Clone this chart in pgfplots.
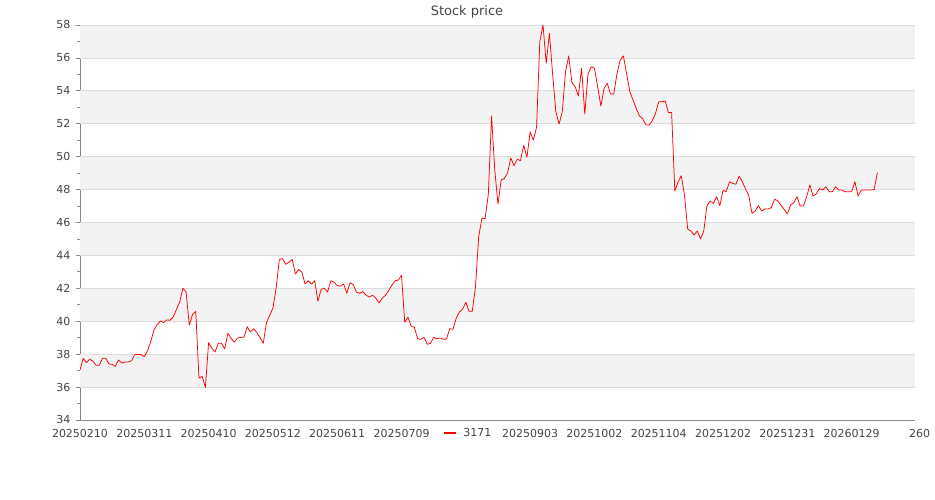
\documentclass[border=0pt]{standalone}
\usepackage{fontspec}
\setmainfont{DejaVu Sans}
\usepackage{pgfplots}
\pgfplotsset{compat=1.18}
\usepackage{pgfplotstable}
\definecolor{txt}{HTML}{444444}
\definecolor{axl}{HTML}{888888}
\definecolor{gridc}{HTML}{DDDDDD}
\definecolor{band}{HTML}{F3F3F3}

% closing price per trading day, index 0 = 20250210
\pgfplotstableread{
i v
0 37.04
1 37.75
2 37.48
3 37.69
4 37.58
5 37.32
6 37.32
7 37.75
8 37.75
9 37.40
10 37.38
11 37.26
12 37.65
13 37.46
14 37.52
15 37.52
16 37.60
17 37.97
18 37.98
19 37.97
20 37.85
21 38.20
22 38.76
23 39.47
24 39.80
25 40.02
26 39.92
27 40.08
28 40.06
29 40.26
30 40.72
31 41.17
32 42.00
33 41.78
34 39.77
35 40.40
36 40.60
37 36.55
38 36.65
39 35.98
40 38.70
41 38.36
42 38.13
43 38.66
44 38.66
45 38.31
46 39.27
47 38.96
48 38.72
49 38.98
50 39.02
51 39.02
52 39.67
53 39.35
54 39.55
55 39.31
56 39.00
57 38.66
58 39.92
59 40.36
60 40.80
61 42.00
62 43.76
63 43.80
64 43.46
65 43.58
66 43.76
67 42.87
68 43.15
69 42.99
70 42.26
71 42.46
72 42.26
73 42.46
74 41.21
75 41.94
76 42.00
77 41.78
78 42.46
79 42.38
80 42.16
81 42.14
82 42.26
83 41.70
84 42.34
85 42.22
86 41.76
87 41.70
88 41.80
89 41.58
90 41.47
91 41.58
92 41.41
93 41.11
94 41.41
95 41.58
96 41.86
97 42.20
98 42.46
99 42.50
100 42.79
101 39.93
102 40.24
103 39.71
104 39.63
105 38.94
106 38.90
107 39.02
108 38.60
109 38.66
110 39.02
111 38.94
112 38.98
113 38.90
114 38.92
115 39.55
116 39.51
117 40.18
118 40.56
119 40.74
120 41.15
121 40.60
122 40.60
123 42.10
124 45.14
125 46.25
126 46.25
127 47.73
128 52.47
129 49.19
130 47.12
131 48.58
132 48.68
133 49.03
134 49.92
135 49.45
136 49.84
137 49.76
138 50.69
139 49.96
140 51.50
141 51.01
142 51.78
143 56.99
144 58.00
145 55.67
146 57.49
147 55.00
148 52.73
149 51.98
150 52.73
151 55.16
152 56.12
153 54.50
154 54.25
155 53.69
156 55.37
157 52.59
158 55.02
159 55.46
160 55.37
161 54.25
162 53.08
163 54.15
164 54.45
165 53.81
166 53.81
167 55.02
168 55.87
169 56.12
170 55.06
171 53.95
172 53.44
173 52.93
174 52.47
175 52.31
176 51.92
177 51.92
178 52.18
179 52.63
180 53.34
181 53.34
182 53.38
183 52.69
184 52.69
185 47.91
186 48.44
187 48.84
188 47.67
189 45.60
190 45.48
191 45.24
192 45.48
193 45.00
194 45.48
195 47.02
196 47.30
197 47.16
198 47.57
199 47.02
200 47.95
201 47.87
202 48.48
203 48.38
204 48.32
205 48.81
206 48.48
207 48.04
208 47.63
209 46.56
210 46.70
211 47.02
212 46.70
213 46.82
214 46.82
215 46.90
216 47.41
217 47.32
218 47.06
219 46.80
220 46.52
221 47.06
222 47.20
223 47.57
224 47.00
225 47.00
226 47.57
227 48.28
228 47.61
229 47.73
230 48.07
231 47.97
232 48.18
233 47.87
234 47.87
235 48.18
236 47.97
237 47.97
238 47.87
239 47.87
240 47.87
241 48.48
242 47.61
243 47.97
244 47.97
245 47.97
246 47.97
247 48.01
248 49.03
}\price

\begin{document}
\begin{tikzpicture}
\useasboundingbox (0,0) rectangle (935pt,500pt);
\node[font=\fontsize{13}{15}\selectfont, text=txt] at (467pt,488pt) {Stock price};
\begin{axis}[
  at={(80pt,80pt)}, anchor=south west,
  width=835pt, height=395pt, scale only axis,
  xmin=0, xmax=259.7,
  ymin=34, ymax=58,
  axis x line*=bottom, axis y line*=left,
  axis line style={draw=axl, line width=0.8pt},
  xtick={0,20,...,240},
  xticklabels={20250210,20250311,20250410,20250512,20250611,20250709,,20250903,20251002,20251104,20251202,20251231,20260129},
  major x tick style={draw=none},
  ytick={34,36,...,58},
  minor y tick num=1,
  tick align=outside,
  y tick style={draw=axl, line width=0.8pt},
  major tick length=4pt, minor tick length=3pt,
  ticklabel style={font=\fontsize{11}{13}\selectfont, text=txt},
  xticklabel style={yshift=-2pt},
  yticklabel style={xshift=-2pt},
  /pgf/number format/assume math mode=true,
  legend style={at={(0.465,-0.033)}, anchor=center, draw=none, fill=white,
    font=\fontsize{11}{13}\selectfont, text=txt, inner sep=1pt},
  legend image code/.code={\draw[line width=2pt] (0pt,0pt) -- (12pt,0pt); \path (17pt,0pt);},
]
\fill[band] (0,36) rectangle (259.7,38);
\fill[band] (0,40) rectangle (259.7,42);
\fill[band] (0,44) rectangle (259.7,46);
\fill[band] (0,48) rectangle (259.7,50);
\fill[band] (0,52) rectangle (259.7,54);
\fill[band] (0,56) rectangle (259.7,58);
\foreach \g in {36,38,...,58} {
  \edef\tmp{\noexpand\draw[gridc, line width=0.8pt] (0,\g) -- (259.7,\g);}\tmp
}
\addplot[red, line width=0.75pt, line join=round] table[x=i, y=v] {\price};
\addlegendentry{3171}
\end{axis}
\node[anchor=west, inner sep=0pt, font=\fontsize{11}{13}\selectfont, text=txt] at (909pt,67pt) {260};
\end{tikzpicture}
\end{document}
